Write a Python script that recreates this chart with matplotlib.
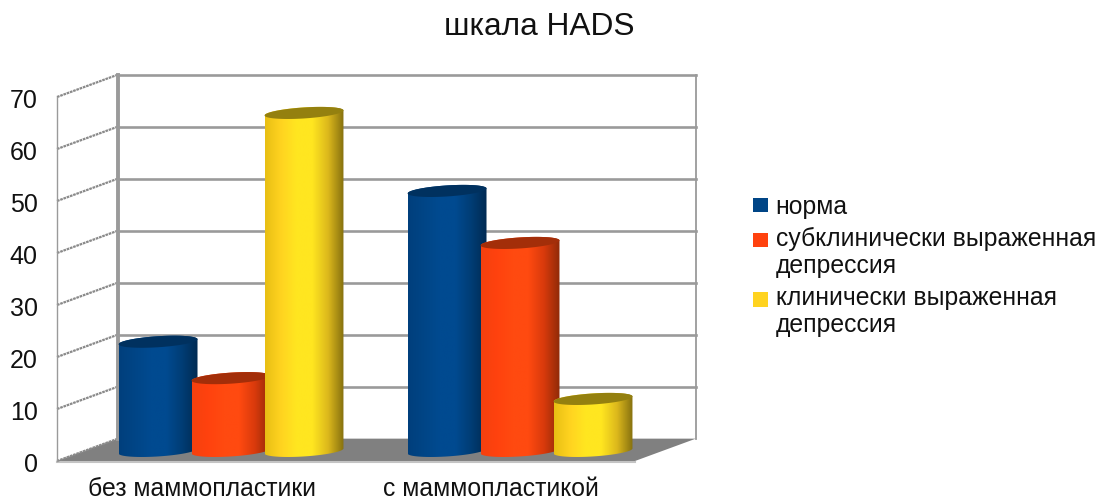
import numpy as np
import matplotlib
matplotlib.use("Agg")
import matplotlib.pyplot as plt
from matplotlib.patches import Polygon, Patch
from matplotlib.colors import LinearSegmentedColormap
from matplotlib.transforms import ScaledTranslation

plt.rcParams['font.family'] = ['Liberation Sans', 'DejaVu Sans']

title = "шкала HADS"
categories = ["без маммопластики", "с маммопластикой"]
series_names = ["норма", "субклинически выраженная\nдепрессия", "клинически выраженная\nдепрессия"]
norma = [21, 50]
subclinical = [14, 40]
clinical = [65, 10]
y_ticks = [0, 10, 20, 30, 40, 50, 60, 70]

series = [norma, subclinical, clinical]
legend_colors = ["#004586", "#ff420e", "#ffd320"]
body_stops = [
    ["#003f7c", "#004586", "#004a90", "#004a90", "#003d75", "#002a52"],
    ["#f5400e", "#ff420e", "#ff4a10", "#ff4a10", "#d83a0c", "#8f2a08"],
    ["#e8bf14", "#ffd320", "#ffe620", "#ffe620", "#dcb81c", "#85700f"],
]
top_colors = ["#00315f", "#a32e09", "#94800f"]

fig = plt.figure(figsize=(11.01, 5.03), dpi=100, facecolor="white")
W, H = 1101, 503
ax = fig.add_axes([57 / W, (H - 461) / H, (635 - 57) / W, (461 - 97) / H])
ax.set_xlim(0, 2)
ax.set_ylim(0, 70)
for s in ax.spines.values():
    s.set_visible(False)

# depth of the pseudo-3D box, in data units
DX, DY = 0.2107, 4.3
GRID = "#9a9a9a"

# floor
ax.add_patch(Polygon([(0, 0), (2, 0), (2 + DX, DY), (DX, DY)], closed=True,
                     facecolor="#808080", edgecolor="none", clip_on=False, zorder=1))
ax.plot([0, 2], [-0.2, -0.2], color="#c4c4c4", lw=1.5, clip_on=False, zorder=1)

# walls and grid
for v in y_ticks:
    if v > 0:
        ax.plot([DX, 2 + DX], [v + DY, v + DY], color=GRID, lw=1.9, clip_on=False, zorder=1)
    ax.plot([0, DX], [v, v + DY], color="#8a8a8a", lw=1.6, ls=(0, (1.2, 0.35)), clip_on=False, zorder=1)
ax.plot([DX, DX], [DY, 70 + DY], color=GRID, lw=2.8, clip_on=False, zorder=1)
ax.plot([2 + DX, 2 + DX], [DY, 70 + DY], color=GRID, lw=1.3, clip_on=False, zorder=1)
ax.plot([0, 0], [0, 70], color=GRID, lw=1.0, clip_on=False, zorder=1)

# cylinders
BAR_W, STEP, DEPTH = 0.273, 0.2525, 0.485
EH, TILT = 1.06, 0.48
t_low = np.linspace(np.pi, 2 * np.pi, 60)
t_up = np.linspace(0, np.pi, 60)
t_all = np.linspace(0, 2 * np.pi, 120)


def ell(cx, cy, t):
    return np.column_stack([cx + BAR_W / 2 * np.cos(t),
                            cy + EH * np.sin(t) + TILT * np.cos(t)])


z = 3
for ci in range(len(categories)):
    for si, vals in enumerate(series):
        v = vals[ci]
        cx = ci + 0.5 + (si - 1) * STEP + DEPTH * DX
        y0 = DEPTH * DY - 0.15
        y1 = y0 + v
        cmap = LinearSegmentedColormap.from_list("c", body_stops[si])
        grad = np.linspace(0, 1, 256)[None, :]
        im = ax.imshow(grad, cmap=cmap, aspect="auto", interpolation="bilinear",
                       extent=[cx - BAR_W / 2, cx + BAR_W / 2, y0 - 2, y1 + 2],
                       zorder=z, clip_on=True)
        body = np.vstack([ell(cx, y0, t_low), ell(cx, y1, t_up)])
        clip = Polygon(body, closed=True, transform=ax.transData)
        im.set_clip_path(clip)
        ax.add_patch(Polygon(ell(cx, y1, t_all), closed=True, facecolor=top_colors[si],
                             edgecolor="none", clip_on=False, zorder=z + 0.5))
        z += 1

ax.set_xlim(0, 2)
ax.set_ylim(0, 70)

ax.set_yticks(y_ticks)
ax.set_yticklabels([str(v) for v in y_ticks], fontsize=18, color="#111111")
ax.tick_params(axis="y", length=0, pad=14)
shift = ScaledTranslation(0, -1 / 100, fig.dpi_scale_trans)
for lab in ax.get_yticklabels():
    lab.set_transform(lab.get_transform() + shift)
ax.set_xticks([0.5, 1.5])
ax.set_xticklabels(categories, fontsize=17.8, color="#111111")
ax.tick_params(axis="x", length=0, pad=11.7)

fig.text(539 / W, 1 - 27 / H, title, ha="center", va="center", fontsize=22.8, color="#111111")

handles = [Patch(facecolor=c, edgecolor="none") for c in legend_colors]
leg = fig.legend(handles, series_names, loc="upper left",
                 bbox_to_anchor=(749 / W, 1 - 191 / H), bbox_transform=fig.transFigure,
                 frameon=False, fontsize=17.8, handlelength=0.6, handleheight=0.53,
                 handletextpad=0.33, labelspacing=0.33, borderpad=0.15, borderaxespad=0)
for t, h, name in zip(leg.get_texts(), leg.legend_handles, series_names):
    t.set_color("#111111")
    t.set_linespacing(1.155)
    if "\n" in name:
        h.set_y(h.get_y() + 9.36)

fig.savefig("out.png", dpi=100, facecolor="white")
